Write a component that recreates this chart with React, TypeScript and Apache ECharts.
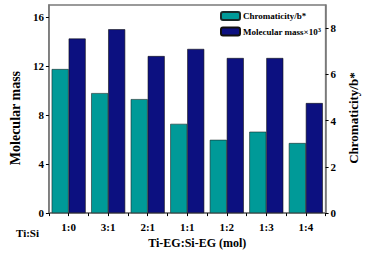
import React, { useEffect, useRef } from "react";
import * as echarts from "echarts";

const categories = ["1:0", "3:1", "2:1", "1:1", "1:2", "1:3", "1:4"];
const chromaticity = [6.23, 5.19, 4.93, 3.86, 3.17, 3.52, 3.03];
const molecularMass = [14.26, 15.02, 12.83, 13.41, 12.67, 12.67, 8.99];
const leftTicks = [0, 4, 8, 12, 16];
const rightTicks = [0, 2, 4, 6, 8];

const FONT = "'Liberation Serif', 'Times New Roman', serif";

export default function App() {
  const ref = useRef<HTMLDivElement>(null);
  useEffect(() => {
    if (!ref.current) return;
    const chart = echarts.init(ref.current, undefined, { renderer: "svg" });
    const labelStyle = { fontFamily: FONT, fontWeight: "bold" as const, fontSize: 11, color: "#000" };
    const nameStyle = { fontFamily: FONT, fontWeight: "bold" as const, fontSize: 14, color: "#000" };
    chart.setOption({
      animation: false,
      backgroundColor: "#fff",
      grid: {
        left: 36,
        right: 37,
        top: 5,
        bottom: 35,
        show: true,
        borderColor: "#7a7a7a",
        borderWidth: 1.5,
        backgroundColor: "transparent",
      },
      legend: {
        orient: "vertical",
        left: 220,
        top: 11,
        z: 10,
        itemWidth: 19,
        itemHeight: 8,
        itemGap: 5,
        padding: 0,
        textStyle: {
          fontFamily: FONT,
          fontWeight: "bold",
          fontSize: 9,
          color: "#000",
          padding: [0, 0, 0, -2],
          rich: {
            a: { fontFamily: FONT, fontWeight: "bold", fontSize: 9, color: "#000" },
            s: { fontFamily: FONT, fontWeight: "bold", fontSize: 6.5, color: "#000", verticalAlign: "top", padding: [0, 0, 4, 0] },
          },
        },
        formatter: (name: string) =>
          name.indexOf("Molecular") === 0 ? "{a|Molecular mass×10}{s|3}" : `{a|${name}}`,
        data: ["Chromaticity/b*", "Molecular mass×10³"],
      },
      xAxis: [
        {
          type: "category",
          data: categories,
          axisLine: { lineStyle: { color: "#7a7a7a", width: 1.5 } },
          axisTick: { show: true, length: 3, lineStyle: { color: "#000" } },
          axisLabel: { ...labelStyle, margin: 8 },
          name: "Ti-EG:Si-EG (mol)",
          nameLocation: "middle",
          nameGap: 18,
          nameTextStyle: { ...nameStyle, fontSize: 12, padding: [0, 0, 0, 20] },
        },
        {
          type: "category",
          data: categories,
          position: "bottom",
          axisLine: { show: false },
          axisTick: { show: true, alignWithLabel: true, length: 3, lineStyle: { color: "#000" } },
          axisLabel: { show: false },
        },
      ],
      yAxis: [
        {
          type: "value",
          min: 0,
          max: 17,
          interval: 4,
          position: "left",
          splitLine: { show: false },
          axisLine: { show: true, lineStyle: { color: "#7a7a7a", width: 1.5 } },
          axisTick: { show: true, length: 3, lineStyle: { color: "#000" }, customValues: leftTicks },
          axisLabel: { ...labelStyle, margin: 5, customValues: leftTicks },
          name: "Molecular mass",
          nameLocation: "middle",
          nameRotate: 90,
          nameGap: 16,
          nameTextStyle: { ...nameStyle, padding: [0, 18, 0, 0] },
        },
        {
          type: "value",
          min: 0,
          max: 9,
          interval: 2,
          position: "right",
          splitLine: { show: false },
          axisLine: { show: true, lineStyle: { color: "#7a7a7a", width: 1.5 } },
          axisTick: { show: true, length: 3, lineStyle: { color: "#000" }, customValues: rightTicks },
          axisLabel: { ...labelStyle, margin: 5, customValues: rightTicks },
          name: "Chromaticity/b*",
          nameLocation: "middle",
          nameRotate: 90,
          nameGap: 14,
          nameTextStyle: { ...nameStyle, fontSize: 13, padding: [0, 18, 0, 0] },
        },
      ],
      graphic: [
        {
          type: "text",
          left: 16,
          top: 227,
          style: { text: "Ti:Si", font: `bold 11px ${FONT}`, fill: "#000" },
        },
      ],
      series: [
        {
          name: "Chromaticity/b*",
          type: "bar",
          yAxisIndex: 1,
          barWidth: 17,
          barGap: "0%",
          data: chromaticity,
          itemStyle: { color: "#009a98", borderColor: "#1a2a2a", borderWidth: 0.6 },
        },
        {
          name: "Molecular mass×10³",
          type: "bar",
          yAxisIndex: 0,
          barWidth: 17,
          barGap: "0%",
          data: molecularMass,
          itemStyle: { color: "#0c1080", borderColor: "#111", borderWidth: 0.6 },
        },
      ],
    });
    return () => chart.dispose();
  }, []);
  return <div ref={ref} style={{ position: "fixed", left: 0, top: 0, width: 368, height: 254 }} />;
}
